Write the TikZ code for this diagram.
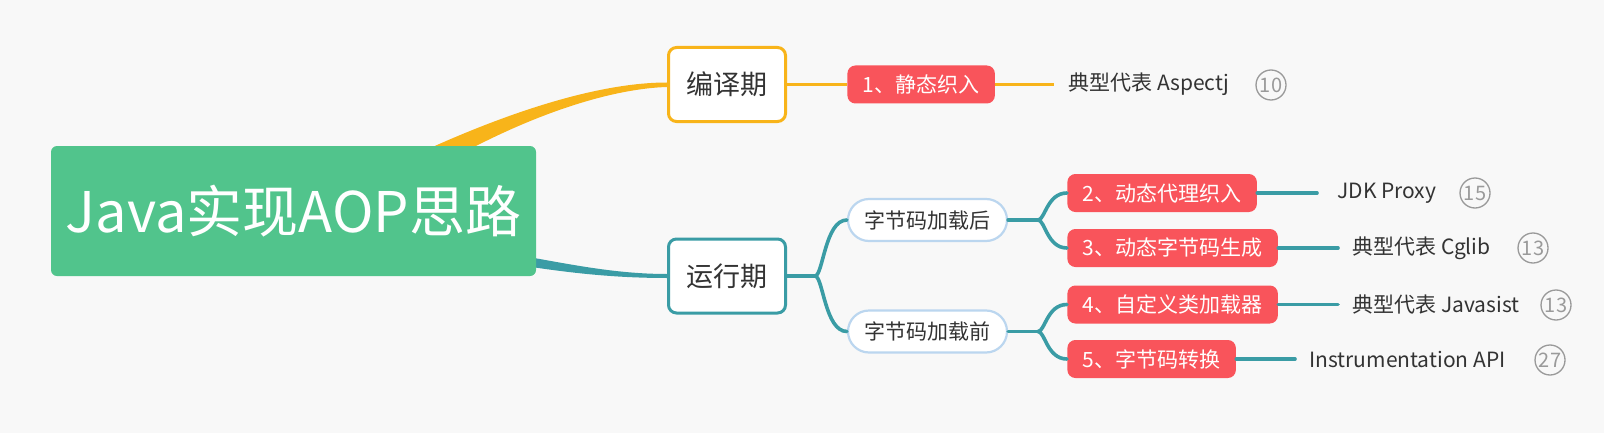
\documentclass[tikz,border=0pt]{standalone}
\usepackage{fontspec}
\newfontfamily\cjk{Noto Sans CJK SC}
\usetikzlibrary{backgrounds,calc}
\definecolor{bgc}{HTML}{F8F8F8}
\definecolor{rootg}{HTML}{51C48C}
\definecolor{orgc}{HTML}{F8B41A}
\definecolor{tealc}{HTML}{3A9CA5}
\definecolor{redb}{HTML}{F9545B}
\definecolor{pillb}{HTML}{BBD6EF}
\definecolor{txt}{HTML}{333333}
\definecolor{circ}{HTML}{9A9A9A}
\tikzset{
  rootbox/.style={fill=rootg, rounded corners=3pt, minimum width=242.5pt, minimum height=65pt,
    text=white, font=\cjk\fontsize{28}{30}\selectfont, inner sep=0pt},
  stage/.style={fill=white, draw, line width=1.5pt, rounded corners=4pt, minimum width=58.5pt,
    minimum height=37pt, font=\cjk\fontsize{13.5}{16}\selectfont, text=txt, inner sep=0pt},
  redbox/.style={fill=redb, rounded corners=4pt, text=white, font=\cjk\fontsize{10.5}{12}\selectfont,
    minimum height=19pt, inner xsep=7.7pt, inner ysep=0pt, anchor=west},
  pill/.style={fill=white, draw=pillb, line width=1.1pt, rounded corners=10.5pt, minimum width=79.5pt,
    minimum height=21pt, font=\cjk\fontsize{10.5}{12}\selectfont, text=txt, inner sep=0pt},
  leaf/.style={font=\cjk\fontsize{10.5}{12}\selectfont, text=txt, anchor=west, inner xsep=7pt, inner ysep=0pt},
  num/.style={circle, draw=circ, line width=0.65pt, text=circ, minimum size=15pt, inner sep=0pt,
    font=\cjk\fontsize{10}{10}\selectfont},
  ol/.style={draw=orgc, line width=1.6pt},
  tl/.style={draw=tealc, line width=1.8pt, line cap=round},
}
\begin{document}
\begin{tikzpicture}[x=0.5pt,y=-0.5pt]
\useasboundingbox (0,0) rectangle (1604,433);
% nodes
\node[rootbox] (root) at (293.5,211) {Java实现AOP思路};
\node[stage, draw=orgc] (comp) at (727,84.5) {编译期};
\node[stage, draw=tealc] (run) at (727,276) {运行期};
\node[redbox] (s1) at (847,84.5) {1、静态织入};
\node[leaf] (t1) at (1054,84.5) {典型代表 Aspectj};
\node[num] (c1) at (1271,85) {10};
\node[pill] (post) at (927.5,220) {字节码加载后};
\node[pill] (pre) at (927.5,331.5) {字节码加载前};
\node[redbox] (s2) at (1067,193) {2、动态代理织入};
\node[redbox] (s3) at (1067,248) {3、动态字节码生成};
\node[redbox] (s4) at (1067,304.5) {4、自定义类加载器};
\node[redbox] (s5) at (1067,359) {5、字节码转换};
\node[leaf, inner xsep=10pt] (t2) at (1317,193) {JDK Proxy};
\node[leaf] (t3) at (1338,248) {典型代表 Cglib};
\node[leaf] (t4) at (1338,304.5) {典型代表 Javasist};
\node[leaf] (t5) at (1295,359) {Instrumentation API};
\node[num] (c2) at (1475,193) {15};
\node[num] (c3) at (1533,248) {13};
\node[num] (c4) at (1556,305) {13};
\node[num] (c5) at (1550,360) {27};
\coordinate (f1) at (815,276);
\coordinate (f2) at (1038,220);
\coordinate (f3) at (1038,331.5);
% background and main tapered branches
\begin{scope}[on background layer]
\fill[bgc] (0,0) rectangle (1604,433);
\fill[orgc] (360,182) .. controls (480,120) and (590,82.5) .. ($(comp.west)+(0,-2)$)
  -- ($(comp.west)+(0,2.5)$) .. controls (600,89) and (500,125) .. (400,190) -- cycle;
\fill[tealc] (500,252) .. controls (560,262) and (610,274) .. ($(run.west)+(0,-2)$)
  -- ($(run.west)+(0,2)$) .. controls (610,278) and (560,272) .. (500,262) -- cycle;
\end{scope}
% connectors
\draw[ol] (comp.east) -- (s1.west);
\draw[ol] (s1.east) -- (t1.west);
\draw[tl] (run.east) -- (f1);
\draw[tl] (f1) .. controls +(8,0) and +(-22,0) .. (post.west);
\draw[tl] (f1) .. controls +(8,0) and +(-22,0) .. (pre.west);
\draw[tl] (post.east) -- (f2);
\draw[tl] (f2) .. controls +(7,0) and +(-20,0) .. (s2.west);
\draw[tl] (f2) .. controls +(7,0) and +(-20,0) .. (s3.west);
\draw[tl] (pre.east) -- (f3);
\draw[tl] (f3) .. controls +(7,0) and +(-20,0) .. (s4.west);
\draw[tl] (f3) .. controls +(7,0) and +(-20,0) .. (s5.west);
\draw[tl] (s2.east) -- (t2.west);
\draw[tl] (s3.east) -- (t3.west);
\draw[tl] (s4.east) -- (t4.west);
\draw[tl] (s5.east) -- (t5.west);
\end{tikzpicture}
\end{document}
